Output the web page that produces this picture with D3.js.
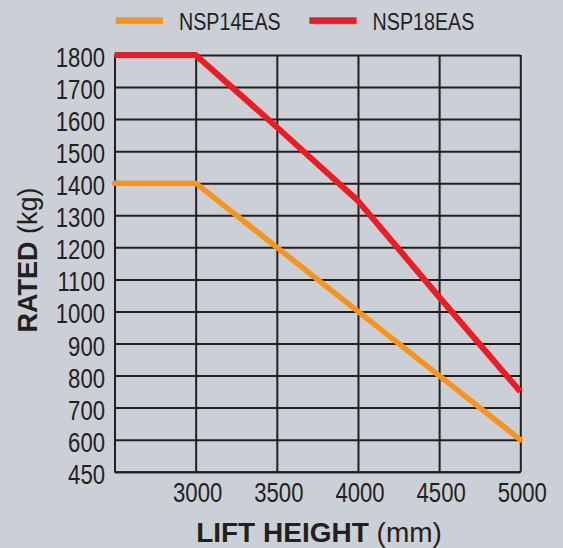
<!DOCTYPE html>
<html lang="en">
<head>
  <title>Rated capacity vs lift height</title>
  <meta charset="utf-8">
  <script src="https://d3js.org/d3.v7.min.js" charset="utf-8"></script>
  <style>
    body { margin: 0; background: #cbcfd6; }
    svg { display: block; }
  </style>
</head>
<body>
<script>
  // lift height (mm) and rated load (kg)
  var liftHeight = [2500, 3000, 3500, 4000, 4500, 5000];
  var nsp14 = [1400, 1400, 1200, 1000, 800, 600];
  var nsp18 = [1800, 1800, 1575, 1345, 1045, 750];
  var seriesNames = ["NSP14EAS", "NSP18EAS"];
  var xTicks = [3000, 3500, 4000, 4500, 5000];
  // bottom label says 450 but sits one step below 600
  var yTickValues = [500, 600, 700, 800, 900, 1000, 1100, 1200, 1300, 1400, 1500, 1600, 1700, 1800];
  var yTickLabels = ["450", "600", "700", "800", "900", "1000", "1100", "1200", "1300", "1400", "1500", "1600", "1700", "1800"];

  var w = 563, h = 548;
  var mLeft = 114.5, mRight = 520.3, mTop = 55, mBottom = 471.7;
  var squeeze = 0.82; // no narrow font installed, so squeeze the regular one
  var sans = "'Liberation Sans', Arial, Helvetica, sans-serif";
  var ink = "#231f20";
  var colors = ["#f7941d", "#ed1c24"];

  var svg = d3.select("body").append("svg")
    .attr("width", w)
    .attr("height", h);

  var x = d3.scaleLinear().domain([2500, 5000]).range([mLeft, mRight]);
  var y = d3.scaleLinear().domain([500, 1800]).range([mBottom, mTop]);

  // horizontal grid + y labels
  var yAxis = svg.append("g")
    .attr("transform", "translate(" + mLeft + ",0)")
    .call(d3.axisLeft(y)
      .tickValues(yTickValues)
      .tickFormat(function(d, i) { return yTickLabels[i]; })
      .tickSize(-(mRight - mLeft))
      .tickSizeOuter(0));

  // vertical grid + x labels
  var xAxis = svg.append("g")
    .attr("transform", "translate(0," + mBottom + ")")
    .call(d3.axisBottom(x)
      .tickValues(xTicks)
      .tickFormat(d3.format("d"))
      .tickSize(-(mBottom - mTop))
      .tickSizeOuter(0));

  [yAxis, xAxis].forEach(function(g) {
    g.selectAll("line, path").attr("stroke", ink).attr("stroke-width", 2);
    g.selectAll("text")
      .attr("fill", ink)
      .attr("transform", "scale(" + squeeze + ",1)")
      .style("font-family", sans)
      .style("font-size", "27px");
  });
  yAxis.selectAll("text").attr("x", -9.5 / squeeze).attr("dy", "11.5px");
  xAxis.selectAll("text").attr("y", 30).attr("dy", 0).attr("x", 1.5 / squeeze);

  // the lines
  var line = d3.line()
    .x(function(d) { return x(d[0]); })
    .y(function(d) { return y(d[1]); });

  [nsp14, nsp18].forEach(function(vals, i) {
    svg.append("path")
      .datum(liftHeight.map(function(hh, j) { return [hh, vals[j]]; }))
      .attr("d", line)
      .attr("fill", "none")
      .attr("stroke", colors[i])
      .attr("stroke-width", i == 0 ? 5.5 : 6)
      .attr("stroke-linejoin", "round")
      .attr("stroke-linecap", i == 0 ? "round" : "butt");
  });

  // legend
  var legendX = [115.7, 309.3];
  seriesNames.forEach(function(name, i) {
    svg.append("rect")
      .attr("x", legendX[i])
      .attr("y", 17.3)
      .attr("width", 47.3)
      .attr("height", 6.6)
      .attr("fill", colors[i]);
    svg.append("text")
      .attr("transform", "translate(" + (legendX[i] + 63.3) + ",30) scale(" + squeeze + ",1)")
      .attr("fill", ink)
      .style("font-family", sans)
      .style("font-size", "24px")
      .text(name);
  });

  // axis titles
  var xt = svg.append("text")
    .attr("x", 319)
    .attr("y", 541.7)
    .attr("text-anchor", "middle")
    .attr("fill", ink)
    .style("font-family", sans)
    .style("font-size", "28px");
  xt.append("tspan").style("font-weight", "bold").text("LIFT HEIGHT");
  xt.append("tspan").text(" (mm)");

  var yt = svg.append("text")
    .attr("text-anchor", "middle")
    .attr("transform", "translate(36.7,260) rotate(-90)")
    .attr("fill", ink)
    .style("font-family", sans)
    .style("font-size", "27px");
  yt.append("tspan").style("font-weight", "bold").text("RATED");
  yt.append("tspan").text(" (kg)");
</script>
</body>
</html>
